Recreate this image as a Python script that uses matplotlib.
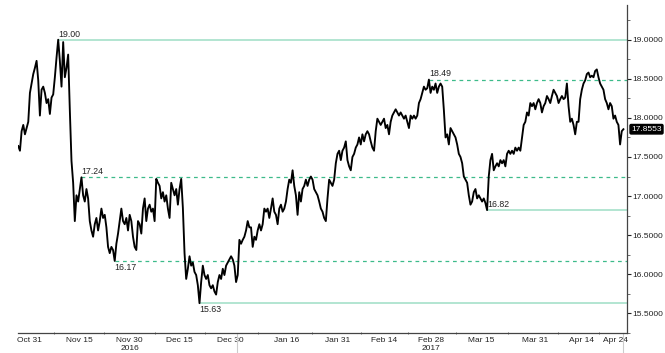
import numpy as np
import pandas as pd
import matplotlib
matplotlib.use('Agg')
import matplotlib.pyplot as plt
import matplotlib.dates as mdates
import matplotlib.transforms as mtransforms

plt.rcParams['font.family'] = ['Liberation Sans', 'DejaVu Sans']

# price path (roughly 12h steps)
part1 = [17.64, 17.58, 17.83, 17.91, 17.79, 17.87, 17.95, 18.32, 18.44, 18.56,
         18.64, 18.73, 18.48, 18.03, 18.36, 18.40, 18.32, 18.19, 18.24, 18.05,
         18.26, 18.30, 18.52, 18.77, 19.00, 18.73, 18.40, 18.97, 18.52, 18.64,
         18.81, 18.10, 17.45, 17.17, 16.68, 17.01, 16.93, 17.09, 17.24, 17.01,
         16.93, 17.09, 16.97, 16.68, 16.56, 16.48, 16.64, 16.72, 16.56, 16.68,
         16.84, 16.72, 16.76, 16.60, 16.35, 16.27, 16.35, 16.31, 16.17, 16.39,
         16.52, 16.68, 16.84, 16.68, 16.64, 16.72, 16.56, 16.76, 16.68, 16.48,
         16.35, 16.31, 16.68, 16.64, 16.52, 16.84, 16.97, 16.68, 16.84, 16.89,
         16.80, 16.84, 16.68, 17.22, 17.17, 17.13, 16.97, 17.05, 16.93, 17.01,
         16.84, 16.72, 17.17, 17.09, 17.01, 17.09, 16.89, 17.09, 17.22, 16.85,
         16.27, 15.94, 16.07, 16.23, 16.11, 16.15, 16.03, 15.99, 15.86, 15.63,
         15.90, 16.11, 15.99, 15.94, 15.99, 15.86, 15.82, 15.86, 15.78, 15.74,
         15.90]
part2 = [15.99, 15.94, 16.07, 15.99, 16.11, 16.15, 16.19, 16.23, 16.19, 16.11,
         15.90, 15.99, 16.44, 16.39, 16.44, 16.48, 16.56, 16.68, 16.60, 16.60,
         16.35, 16.48, 16.44, 16.56, 16.64, 16.56, 16.64, 16.84, 16.80, 16.84,
         16.72, 16.84, 16.97, 16.80, 16.76, 16.64, 16.84, 16.89, 16.80, 16.84,
         16.93, 17.09, 17.21, 17.17, 17.33, 17.13, 17.01, 16.76, 17.05, 16.93,
         17.09, 17.13, 17.21, 17.13, 17.21, 17.25, 17.21, 17.09, 17.05, 17.01,
         16.93, 16.84, 16.80, 16.72, 16.68, 16.97, 17.21, 17.17, 17.13, 17.21,
         17.42, 17.54, 17.58, 17.46, 17.58, 17.62, 17.70, 17.46, 17.38, 17.33,
         17.50, 17.54, 17.62, 17.66, 17.75, 17.66, 17.79, 17.70, 17.79, 17.83,
         17.79, 17.70, 17.62, 17.58, 17.83, 17.99, 17.95, 17.91, 17.95, 17.99,
         17.87, 17.91, 17.79, 17.95, 18.03, 18.07, 18.11, 18.07, 18.03, 18.07,
         18.03, 17.99, 18.03, 17.95, 17.87, 18.03, 17.99, 18.03, 17.99, 18.03,
         18.19, 18.24, 18.32, 18.40, 18.36, 18.38]
part3 = [18.49, 18.32, 18.40, 18.36, 18.44, 18.32, 18.40, 18.44, 18.40, 18.10,
         17.75, 17.79, 17.66, 17.87, 17.83, 17.79, 17.75, 17.66, 17.54, 17.50,
         17.42, 17.25, 17.21, 17.17, 17.01, 16.89, 16.93, 17.05, 17.09, 16.97,
         17.01, 16.97, 16.93, 16.97, 16.91, 16.82, 17.25, 17.46, 17.54, 17.33,
         17.38, 17.42, 17.38, 17.46, 17.42, 17.46, 17.38, 17.54, 17.58, 17.54,
         17.58, 17.54, 17.62, 17.58, 17.62, 17.58, 17.75, 17.91, 17.95, 18.07,
         18.03, 18.19, 18.15, 18.19, 18.11, 18.19, 18.24, 18.19, 18.07, 18.15,
         18.19, 18.28, 18.24, 18.19, 18.28, 18.36, 18.32, 18.28, 18.19, 18.24,
         18.28, 18.24, 18.26, 18.44, 18.15, 17.95, 17.99, 17.91, 17.79, 17.95,
         17.95, 18.24, 18.36, 18.44, 18.48, 18.56, 18.58, 18.52, 18.54, 18.52,
         18.60, 18.62, 18.52, 18.44, 18.40, 18.36, 18.24, 18.19, 18.11, 18.19,
         18.15, 17.99, 18.03, 17.95, 17.91, 17.66, 17.83, 17.8553]
prices = np.array(part1 + part2 + part3)
times = pd.date_range('2016-10-27 19:30', '2017-04-26 10:00', periods=len(prices))

solid_levels = [19.00, 15.63, 16.82]
dashed_levels = [18.49, 17.24, 16.17]
label_above = {19.00: True, 18.49: True, 17.24: True, 16.82: True, 16.17: False, 15.63: False}

tick_dates = ['2016-10-31', '2016-11-15', '2016-11-30', '2016-12-15', '2016-12-30',
              '2017-01-16', '2017-01-31', '2017-02-14', '2017-02-28', '2017-03-15',
              '2017-03-31', '2017-04-14', '2017-04-24']
tick_labels = ['Oct 31', 'Nov 15', 'Nov 30\n2016', 'Dec 15', 'Dec 30', 'Jan 16', 'Jan 31',
               'Feb 14', 'Feb 28\n2017', 'Mar 15', 'Mar 31', 'Apr 14', 'Apr 24']

fig = plt.figure(figsize=(6.65, 3.53), dpi=100)
ax = fig.add_axes([0.027, 0.057, 0.916, 0.929])

ax.plot(times, prices, color='black', lw=1.35, zorder=3)

# support / resistance lines with value labels
for lev in solid_levels + dashed_levels:
    i = int(np.argmax(np.abs(prices - lev) < 0.005))
    t0 = mdates.date2num(times[i])
    if lev in solid_levels:
        ax.hlines(lev, t0, mdates.date2num(pd.Timestamp('2017-05-01')), color='#a6e0c9', lw=1.2, zorder=2)
    else:
        ax.hlines(lev, t0, mdates.date2num(pd.Timestamp('2017-05-01')), color='#3dbb8a', lw=0.9,
                  linestyles=(0, (3, 3)), zorder=2)
    if label_above[lev]:
        ax.text(t0, lev + 0.015, '%.2f' % lev, fontsize=6.3, va='bottom', ha='left', color='#222222')
    else:
        ax.text(t0, lev - 0.02, '%.2f' % lev, fontsize=6.3, va='top', ha='left', color='#222222')

ax.set_ylim(15.423, 19.445)
ax.set_xlim(mdates.date2num(times[0]) - 0.1, mdates.date2num(times[-1]) + 1.1)

ax.yaxis.tick_right()
ax.set_yticks(np.arange(15.5, 19.01, 0.5))
ax.set_yticks(np.arange(15.25, 19.3, 0.25), minor=True)
ax.yaxis.set_major_formatter(plt.FormatStrFormatter('%.4f'))
ax.tick_params(axis='y', which='major', labelsize=6, length=3, width=0.8, pad=1, colors='#222222')
ax.tick_params(axis='y', which='minor', length=2, width=0.6, color='#555555')

tnum = mdates.date2num(pd.to_datetime(tick_dates))
ax.set_xticks(tnum)
ax.set_xticklabels(tick_labels, fontsize=6, linespacing=1.1)
ax.set_xticks((tnum[:-1] + tnum[1:]) / 2, minor=True)
ax.tick_params(axis='x', which='major', length=0, pad=3, colors='#222222')
ax.tick_params(axis='x', which='minor', length=2, width=0.6, direction='inout', color='#555555')

for s in ['left', 'top']:
    ax.spines[s].set_visible(False)
ax.spines['right'].set_color('#444444')
ax.spines['bottom'].set_color('#444444')
ax.spines['right'].set_linewidth(0.9)
ax.spines['bottom'].set_linewidth(0.9)

# faint separators under the axis
trans = mtransforms.blended_transform_factory(ax.transData, ax.transAxes)
for d in [mdates.date2num(pd.Timestamp('2017-01-01')), mdates.date2num(times[-1])]:
    ax.plot([d, d], [0, -0.06], transform=trans, color='#cccccc', lw=0.8, clip_on=False)

# last price tag
ax.annotate('%.4f' % prices[-1], xy=(1, prices[-1]), xycoords=('axes fraction', 'data'),
            xytext=(3, 0), textcoords='offset points', fontsize=6, color='white',
            va='center', ha='left',
            bbox=dict(boxstyle='round,pad=0.15', fc='black', ec='black'))

fig.savefig('out.png', dpi=100)
